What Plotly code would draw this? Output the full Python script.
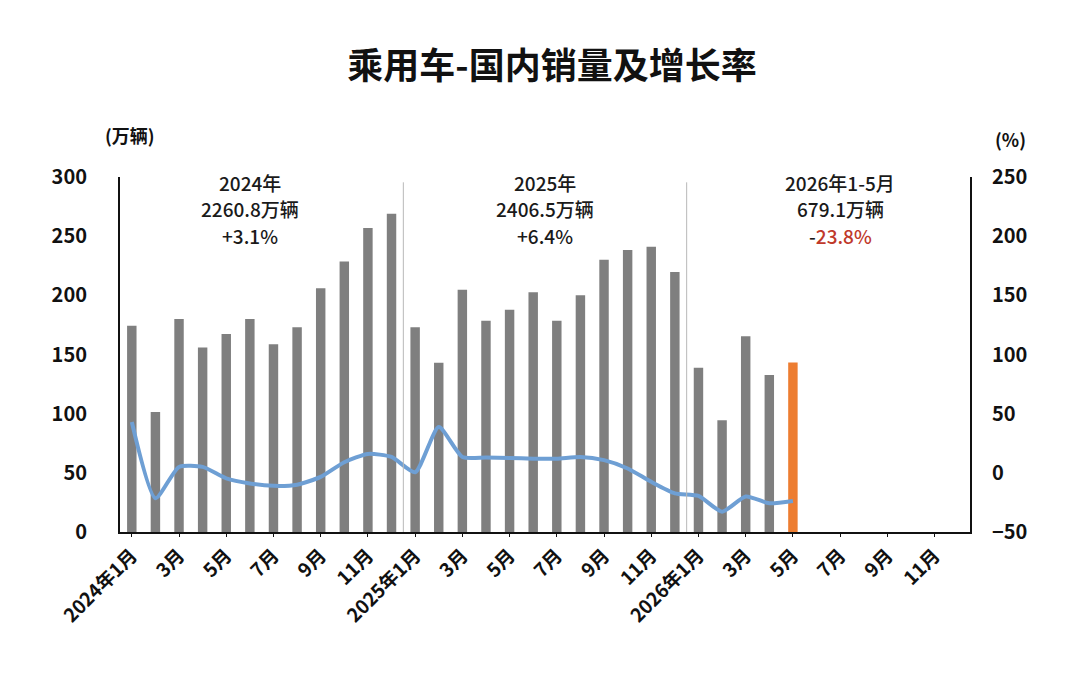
import plotly.graph_objects as go

# ---- data ----
months = [f"{y}-{m:02d}" for y in (2024, 2025, 2026) for m in range(1, 13)]
tick_labels = ["2024年1月", "3月", "5月", "7月", "9月", "11月",
               "2025年1月", "3月", "5月", "7月", "9月", "11月",
               "2026年1月", "3月", "5月", "7月", "9月", "11月"]
sales_2024 = [174.4, 101.5, 180.0, 155.9, 167.4, 180.0, 158.7, 173.0, 206.0, 228.5, 257.0, 269.0]
sales_2025 = [173.0, 143.0, 204.7, 178.6, 187.9, 202.7, 178.6, 200.0, 230.0, 238.3, 241.0, 219.8]
sales_2026 = [138.8, 94.5, 165.4, 132.6, 143.3]
growth_2024 = [42.9, -21.5, 5.0, 5.0, -4.7, -9.0, -11.0, -10.0, -3.4, 9.0, 16.0, 13.4]
growth_2025 = [0.5, 38.7, 13.4, 13.0, 12.5, 12.0, 12.0, 13.4, 10.7, 3.7, -7.6, -17.3]
growth_2026 = [-19.5, -32.8, -20.0, -25.7, -23.8]
note_titles = ["2024年", "2025年", "2026年1-5月"]
note_totals = ["2260.8万辆", "2406.5万辆", "679.1万辆"]
note_growth = ["+3.1%", "+6.4%", "-<span style='color:#c0392b'>23.8%</span>"]
note_x = [5.0, 17.5, 30.0]

sales = sales_2024 + sales_2025 + sales_2026
growth = growth_2024 + growth_2025 + growth_2026
n = len(sales)
bar_colors = ["#7f7f7f"] * (n - 1) + ["#ED7D31"]

FONT = "Noto Sans CJK SC"
OFF = 8  # browser body margin

L, T, W, H = 120 - OFF, 177 - OFF, 850, 355

fig = go.Figure()
fig.add_trace(go.Bar(x=months[:n], y=sales, marker=dict(color=bar_colors, line=dict(width=0)),
                     width=0.4, yaxis="y", showlegend=False))
fig.add_trace(go.Scatter(x=months[:n], y=growth, mode="lines", yaxis="y2",
                         line=dict(color="#6e9fd4", width=4, shape="spline", smoothing=0.6),
                         showlegend=False))

tickvals = months[::2]

fig.update_layout(
    width=1080, height=683,
    paper_bgcolor="white", plot_bgcolor="white",
    margin=dict(l=L, r=1080 - L - W, t=T, b=683 - T - H, autoexpand=False),
    font=dict(family=FONT, color="#111111"),
    title=dict(text="<b>乘用车-国内销量及增长率</b>", x=(552 - OFF) / 1080, xanchor="center",
               y=1 - (66 - OFF) / 683, yanchor="middle", font=dict(size=36, family=FONT, color="#111111")),
    xaxis=dict(type="category", categoryorder="array", categoryarray=months,
               range=[-0.5, 35.5], tickvals=tickvals, ticktext=["<b>%s</b>" % t for t in tick_labels],
               tickangle=-45, tickfont=dict(size=19, family=FONT, color="#111111"),
               showline=True, linecolor="#111111", linewidth=2, automargin=False,
               ticks="outside", ticklen=3, tickcolor="#111111", showgrid=False),
    yaxis=dict(range=[0, 300], dtick=50, showgrid=False, zeroline=False, automargin=False,
               showline=True, linecolor="#111111", linewidth=2,
               tickfont=dict(size=20, family=FONT, color="#111111"), ticks="",
               tickprefix="<b>", ticksuffix="</b>", ticklabelstandoff=27),
    yaxis2=dict(range=[-50, 250], dtick=50, overlaying="y", side="right", automargin=False,
                showgrid=False, zeroline=False, showline=True, linecolor="#111111", linewidth=2,
                tickfont=dict(size=20, family=FONT, color="#111111"), ticks="",
                tickprefix="<b>", ticksuffix="</b>", ticklabelstandoff=16),
)

# year separators
for xv in (11.5, 23.5):
    fig.add_shape(type="line", xref="x", yref="paper", x0=xv, x1=xv, y0=0, y1=0.985,
                  line=dict(color="#b8b8b8", width=1))

line_y = [182, 208, 235]
for i, xpos in enumerate(note_x):
    for text, yp in zip((note_titles[i], note_totals[i], note_growth[i]), line_y):
        fig.add_annotation(x=xpos, xref="x", y=(532 - yp) / H, yref="paper", yanchor="middle",
                           text=text, showarrow=False,
                           font=dict(size=19, family=FONT, color="#1a1a1a", weight=500), align="center")

def px(xp, yp):
    return dict(x=(xp - 120) / W, y=(532 - yp) / H)

fig.add_annotation(xref="paper", yref="paper", **px(130, 135), xanchor="center", yanchor="middle",
                   text="<b>(万辆)</b>", showarrow=False, font=dict(size=18, family=FONT, color="#111111"))
fig.add_annotation(xref="paper", yref="paper", **px(1010, 139), xanchor="center", yanchor="middle",
                   text="<b>(%)</b>", showarrow=False, font=dict(size=18, family=FONT, color="#111111"))

fig.write_html("out.html")
